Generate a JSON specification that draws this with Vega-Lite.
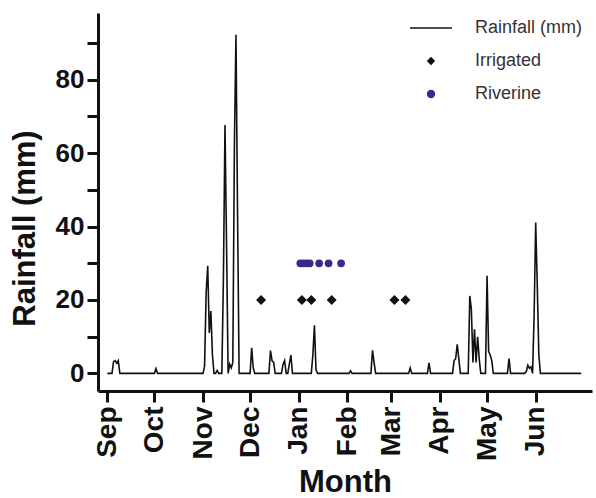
{
  "$schema": "https://vega.github.io/schema/vega-lite/v6.json",
  "width": 494,
  "height": 378,
  "autosize": {"type": "none"},
  "padding": {"left": 98, "top": 13, "right": 4, "bottom": 107},
  "background": "white",
  "config": {
    "view": {"stroke": null},
    "font": "Liberation Sans"
  },
  "datasets": {
    "rain": [
      {"d": "2010-09-01", "v": 0},
      {"d": "2010-09-04", "v": 0},
      {"d": "2010-09-05", "v": 3.2},
      {"d": "2010-09-06", "v": 3.5},
      {"d": "2010-09-07", "v": 2.8},
      {"d": "2010-09-08", "v": 3.5},
      {"d": "2010-09-09", "v": 0},
      {"d": "2010-10-01", "v": 0},
      {"d": "2010-10-02", "v": 1.3},
      {"d": "2010-10-03", "v": 0},
      {"d": "2010-11-01", "v": 0},
      {"d": "2010-11-02", "v": 2},
      {"d": "2010-11-03", "v": 22},
      {"d": "2010-11-04", "v": 29.3},
      {"d": "2010-11-05", "v": 11},
      {"d": "2010-11-06", "v": 17},
      {"d": "2010-11-07", "v": 5},
      {"d": "2010-11-08", "v": 0},
      {"d": "2010-11-09", "v": 0},
      {"d": "2010-11-10", "v": 0.8},
      {"d": "2010-11-11", "v": 0},
      {"d": "2010-11-13", "v": 0},
      {"d": "2010-11-14", "v": 26},
      {"d": "2010-11-15", "v": 67.7},
      {"d": "2010-11-16", "v": 35},
      {"d": "2010-11-17", "v": 0},
      {"d": "2010-11-18", "v": 2.5},
      {"d": "2010-11-19", "v": 1.5},
      {"d": "2010-11-20", "v": 3},
      {"d": "2010-11-21", "v": 62},
      {"d": "2010-11-22", "v": 92.3},
      {"d": "2010-11-23", "v": 44},
      {"d": "2010-11-24", "v": 0},
      {"d": "2010-12-01", "v": 0},
      {"d": "2010-12-02", "v": 7},
      {"d": "2010-12-03", "v": 1.5},
      {"d": "2010-12-04", "v": 0},
      {"d": "2010-12-13", "v": 0},
      {"d": "2010-12-14", "v": 6.2},
      {"d": "2010-12-15", "v": 3.4},
      {"d": "2010-12-16", "v": 3},
      {"d": "2010-12-17", "v": 0},
      {"d": "2010-12-21", "v": 0},
      {"d": "2010-12-22", "v": 2.5},
      {"d": "2010-12-23", "v": 3.5},
      {"d": "2010-12-24", "v": 0},
      {"d": "2010-12-25", "v": 0},
      {"d": "2010-12-26", "v": 2.5},
      {"d": "2010-12-27", "v": 5},
      {"d": "2010-12-28", "v": 0},
      {"d": "2011-01-09", "v": 0},
      {"d": "2011-01-10", "v": 5},
      {"d": "2011-01-11", "v": 13.1},
      {"d": "2011-01-12", "v": 1},
      {"d": "2011-01-13", "v": 0},
      {"d": "2011-02-02", "v": 0},
      {"d": "2011-02-03", "v": 0.7},
      {"d": "2011-02-04", "v": 0},
      {"d": "2011-02-16", "v": 0},
      {"d": "2011-02-17", "v": 6.3},
      {"d": "2011-02-18", "v": 3},
      {"d": "2011-02-19", "v": 0},
      {"d": "2011-03-12", "v": 0},
      {"d": "2011-03-13", "v": 1.5},
      {"d": "2011-03-14", "v": 0},
      {"d": "2011-03-24", "v": 0},
      {"d": "2011-03-25", "v": 2.9},
      {"d": "2011-03-26", "v": 0},
      {"d": "2011-04-09", "v": 0},
      {"d": "2011-04-10", "v": 3.5},
      {"d": "2011-04-11", "v": 4},
      {"d": "2011-04-12", "v": 7.9},
      {"d": "2011-04-13", "v": 4},
      {"d": "2011-04-14", "v": 0},
      {"d": "2011-04-19", "v": 0},
      {"d": "2011-04-20", "v": 21.1},
      {"d": "2011-04-21", "v": 17.5},
      {"d": "2011-04-22", "v": 3},
      {"d": "2011-04-23", "v": 12},
      {"d": "2011-04-24", "v": 3},
      {"d": "2011-04-25", "v": 10},
      {"d": "2011-04-26", "v": 4},
      {"d": "2011-04-27", "v": 0},
      {"d": "2011-04-30", "v": 0},
      {"d": "2011-05-01", "v": 26.6},
      {"d": "2011-05-02", "v": 6},
      {"d": "2011-05-03", "v": 5},
      {"d": "2011-05-04", "v": 3.5},
      {"d": "2011-05-05", "v": 0},
      {"d": "2011-05-14", "v": 0},
      {"d": "2011-05-15", "v": 4},
      {"d": "2011-05-16", "v": 0},
      {"d": "2011-05-25", "v": 0},
      {"d": "2011-05-26", "v": 0.5},
      {"d": "2011-05-27", "v": 2.2},
      {"d": "2011-05-28", "v": 1.4},
      {"d": "2011-05-29", "v": 1.8},
      {"d": "2011-05-30", "v": 0},
      {"d": "2011-05-31", "v": 16},
      {"d": "2011-06-01", "v": 41.1},
      {"d": "2011-06-02", "v": 24},
      {"d": "2011-06-03", "v": 5},
      {"d": "2011-06-04", "v": 0},
      {"d": "2011-06-30", "v": 0}
    ],
    "marks": [
      {"d": "2010-12-08", "v": 20, "s": "Irrigated"},
      {"d": "2011-01-03", "v": 20, "s": "Irrigated"},
      {"d": "2011-01-09", "v": 20, "s": "Irrigated"},
      {"d": "2011-01-22", "v": 20, "s": "Irrigated"},
      {"d": "2011-03-03", "v": 20, "s": "Irrigated"},
      {"d": "2011-03-10", "v": 20, "s": "Irrigated"},
      {"d": "2011-01-02", "v": 30, "s": "Riverine"},
      {"d": "2011-01-04", "v": 30, "s": "Riverine"},
      {"d": "2011-01-06", "v": 30, "s": "Riverine"},
      {"d": "2011-01-08", "v": 30, "s": "Riverine"},
      {"d": "2011-01-14", "v": 30, "s": "Riverine"},
      {"d": "2011-01-20", "v": 30, "s": "Riverine"},
      {"d": "2011-01-28", "v": 30, "s": "Riverine"}
    ]
  },
  "encoding": {
    "x": {
      "field": "d",
      "type": "temporal",
      "title": "Month",
      "scale": {
        "type": "utc",
        "domain": [
          {"year": 2010, "month": 8, "date": 26, "hours": 2, "utc": true},
          {"year": 2011, "month": 7, "date": 6, "hours": 21, "utc": true}
        ]
      },
      "axis": {
        "values": [
          {"year": 2010, "month": 9, "date": 1, "utc": true},
          {"year": 2010, "month": 10, "date": 1, "utc": true},
          {"year": 2010, "month": 11, "date": 1, "utc": true},
          {"year": 2010, "month": 12, "date": 1, "utc": true},
          {"year": 2011, "month": 1, "date": 1, "utc": true},
          {"year": 2011, "month": 2, "date": 1, "utc": true},
          {"year": 2011, "month": 3, "date": 1, "utc": true},
          {"year": 2011, "month": 4, "date": 1, "utc": true},
          {"year": 2011, "month": 5, "date": 1, "utc": true},
          {"year": 2011, "month": 6, "date": 1, "utc": true}
        ],
        "labelExpr": "utcFormat(datum.value, '%b')",
        "labelAngle": -90,
        "labelFont": "Liberation Sans",
        "labelFontWeight": "bold",
        "labelFontSize": 28,
        "labelColor": "#111",
        "labelPadding": 4,
        "labelOverlap": false,
        "labelFlush": false,
        "grid": false,
        "domainColor": "#111",
        "domainWidth": 3,
        "tickColor": "#111",
        "tickWidth": 3,
        "tickSize": 11,
        "titleFont": "Liberation Sans",
        "titleFontWeight": "bold",
        "titleFontSize": 31,
        "titleColor": "#111",
        "titlePadding": 7
      }
    },
    "y": {
      "field": "v",
      "type": "quantitative",
      "title": "Rainfall (mm)",
      "scale": {"domain": [-4.8, 98.2], "nice": false, "zero": false},
      "axis": {
        "values": [0, 10, 20, 30, 40, 50, 60, 70, 80, 90],
        "labelExpr": "datum.value % 20 === 0 ? datum.label : ''",
        "labelFont": "Liberation Sans",
        "labelFontWeight": "bold",
        "labelFontSize": 26,
        "labelColor": "#111",
        "labelPadding": 3,
        "grid": false,
        "domainColor": "#111",
        "domainWidth": 3,
        "tickColor": "#111",
        "tickWidth": 3,
        "tickSize": 11,
        "titleFont": "Liberation Sans",
        "titleFontWeight": "bold",
        "titleFontSize": 31,
        "titleColor": "#111",
        "titleX": -57,
        "titleY": 215
      }
    }
  },
  "layer": [
    {
      "data": {"name": "rain"},
      "mark": {"type": "line", "color": "#111", "strokeWidth": 1.6, "interpolate": "linear"}
    },
    {
      "data": {"name": "marks"},
      "mark": {"type": "point", "filled": true, "opacity": 1},
      "encoding": {
        "size": {
          "condition": {"test": "datum.s === 'Irrigated'", "value": 100},
          "value": 60
        },
        "color": {
          "field": "s",
          "type": "nominal",
          "scale": {
            "domain": ["Rainfall (mm)", "Irrigated", "Riverine"],
            "range": ["#111111", "#111111", "#3b2a8c"]
          },
          "legend": {
            "title": null,
            "orient": "none",
            "legendX": 324,
            "legendY": 6,
            "padding": 0,
            "symbolSize": 70,
            "symbolStrokeWidth": 0,
            "symbolOpacity": 1,
            "labelFont": "Liberation Sans",
            "labelFontSize": 18,
            "labelColor": "#333",
            "labelOffset": 35,
            "rowPadding": 15
          }
        },
        "shape": {
          "field": "s",
          "type": "nominal",
          "scale": {
            "domain": ["Rainfall (mm)", "Irrigated", "Riverine"],
            "range": ["M-5.0,-0.18L5.0,-0.18L5.0,0.18L-5.0,0.18Z", "diamond", "circle"]
          }
        }
      }
    }
  ]
}
